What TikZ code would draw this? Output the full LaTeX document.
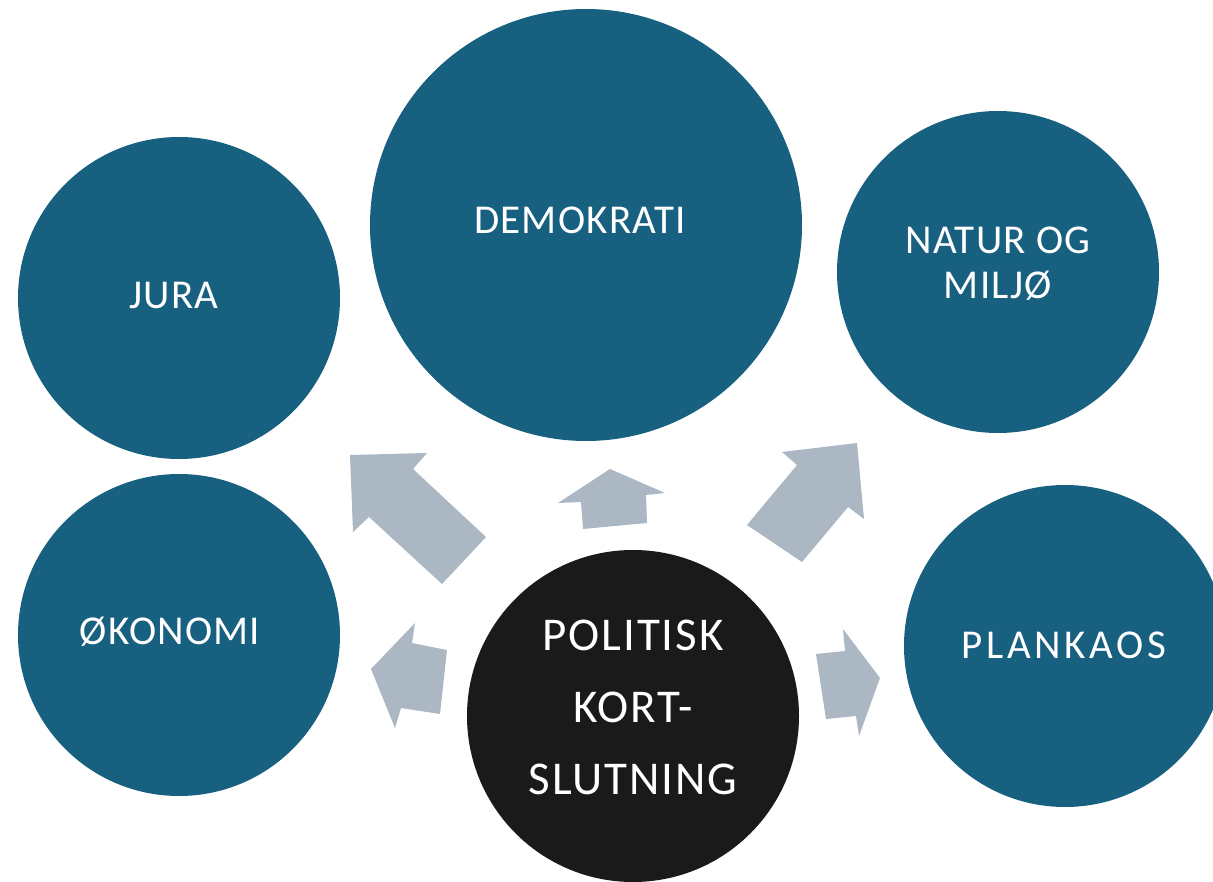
\documentclass[tikz,border=0pt]{standalone}
\usepackage{fontspec}
\setmainfont{Carlito}
\newfontfamily\bubfont[LetterSpace=3]{Carlito}
\newfontfamily\widefont[LetterSpace=9]{Carlito}
\newfontfamily\bigfont[LetterSpace=4]{Carlito}
\definecolor{bubblue}{RGB}{24,96,128}
\definecolor{bubblack}{RGB}{26,26,26}
\definecolor{arrowgray}{RGB}{171,184,195}
\tikzset{
  bub/.style={circle,fill=bubblue,inner sep=0pt,draw=none},
  lbl/.style={text=white,align=center,inner sep=0pt,font=\bubfont\fontsize{41}{45}\selectfont},
  arw/.style={fill=arrowgray,draw=none}
}
\begin{document}
\begin{tikzpicture}[x=1pt,y=-1pt]
    \clip (0,0) rectangle (1213,882);
    \fill[white] (0,0) rectangle (1213,882);
    % circles
    \node[bub,minimum size=432pt] (demokrati) at (586,225) {};
    \node[bub,minimum size=322pt] (jura) at (179,298) {};
    \node[bub,minimum size=322pt] (natur) at (998,272) {};
    \node[bub,minimum size=322pt] (okonomi) at (179,635) {};
    \node[bub,minimum size=322pt] (plankaos) at (1065,646) {};
    \node[bub,fill=bubblack,minimum size=332pt] (politisk) at (633,716) {};
    % texts
    \node[lbl] (demokrati-t) at (580,220) {DEMOKRATI};
    \node[lbl] (jura-t) at (174,295) {JURA};
    \node[lbl] (natur-t) at (998,264) {NATUR OG\\MILJØ};
    \node[lbl] (okonomi-t) at (170,632) {ØKONOMI};
    \node[lbl,font=\widefont\fontsize{41}{45}\selectfont] (plankaos-t) at (1064,645) {PLANKAOS};
    \node[lbl,font=\bigfont\fontsize{47}{72}\selectfont] (politisk-t) at (633,707) {POLITISK\\KORT-\\SLUTNING};
    % block arrows
    \fill[arw] (350,455) -- (427,453) -- (413,469) -- (486,537) -- (442,584) -- (369,517) -- (353,532) -- cycle;
    \fill[arw] (610,469) -- (665,493) -- (646,495) -- (647,523) -- (583,529) -- (581,502) -- (558,503) -- cycle;
    \fill[arw] (782,452) -- (857,443) -- (864,519) -- (848,507) -- (802,562) -- (747,525) -- (797,465) -- cycle;
    \fill[arw] (415,623) -- (412,643) -- (447,650) -- (440,714) -- (401,708) -- (395,728) -- (371,669) -- cycle;
    \fill[arw] (843,629) -- (845,651) -- (816,654) -- (826,719) -- (856,716) -- (859,736) -- (880,678) -- cycle;
\end{tikzpicture}
\end{document}
